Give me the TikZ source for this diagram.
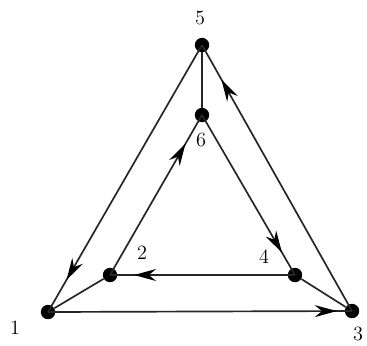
\documentclass[tikz,border=0pt]{standalone}
\usetikzlibrary{arrows.meta,decorations.markings}
\begin{document}
\begin{tikzpicture}[
        x=0.025cm, y=-0.025cm,
        dot/.style={circle, fill=black, inner sep=0pt, minimum size=0.36cm},
        lbl/.style={font=\Large, inner sep=0pt},
        edge/.style={line width=1.2pt, draw=black!85},
        arr/.style={edge, postaction={decorate}, decoration={markings,
            mark=at position #1 with {\arrow[black]{Stealth[length=5.5mm,width=3mm]}}}}
    ]
        \useasboundingbox (0,0) rectangle (367,345);
        % Vertices
        \node[dot] (n1) at (48,312) {};
        \node[dot] (n2) at (110,275) {};
        \node[dot] (n3) at (352,311) {};
        \node[dot] (n4) at (295,275) {};
        \node[dot] (n5) at (202,45) {};
        \node[dot] (n6) at (202,115) {};

        % Labels
        \node[lbl] (l1) at (15,328) {1};
        \node[lbl] (l2) at (142,253) {2};
        \node[lbl] (l3) at (358,334) {3};
        \node[lbl] (l4) at (264,257) {4};
        \node[lbl] (l5) at (200,18) {5};
        \node[lbl] (l6) at (201,140) {6};

        % Plain edges
        \draw[edge] (n1) -- (n2);
        \draw[edge] (n4) -- (n3);
        \draw[edge] (n5) -- (n6);

        % Directed edges
        \draw[arr=0.95] (n1.center) -- (n3.center);
        \draw[arr=0.87] (n4.center) -- (n2.center);
        \draw[arr=0.88] (n5.center) -- (n1.center);
        \draw[arr=0.87] (n3.center) -- (n5.center);
        \draw[arr=0.82] (n2.center) -- (n6.center);
        \draw[arr=0.86] (n6.center) -- (n4.center);
    \end{tikzpicture}
\end{document}
